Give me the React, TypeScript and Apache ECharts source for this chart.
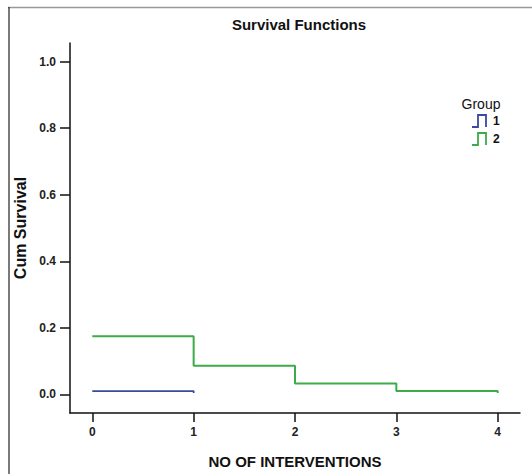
import React, { useEffect, useRef } from "react";
import * as echarts from "echarts";

const times = [0, 1, 2, 3, 4];
const group2Survival = [0.175, 0.086, 0.033, 0.01, 0.004];
const group1Times = [0, 1];
const group1Survival = [0.01, 0.004];
const yTicks = [0, 0.2, 0.4, 0.6, 0.8, 1.0];
const xTicks = [0, 1, 2, 3, 4];
const groupNames = ["1", "2"];
const colors = ["#3a4a9c", "#3cab48"];

export default function App() {
  const ref = useRef<HTMLDivElement>(null);
  useEffect(() => {
    if (!ref.current) return;
    const chart = echarts.init(ref.current, null, { renderer: "svg" });
    const font = "'Liberation Sans', Arial, sans-serif";
    const stepIcon = (x: number, y: number) => [
      [x, y + 12],
      [x + 6, y + 12],
      [x + 6, y],
      [x + 14, y],
      [x + 14, y + 12],
    ];
    chart.setOption({
      animation: false,
      backgroundColor: "#ffffff",
      title: {
        text: "Survival Functions",
        left: 294,
        top: 12,
        textAlign: "center",
        textStyle: { fontFamily: font, fontSize: 15, fontWeight: "bold", color: "#111" },
      },
      grid: { left: 70, top: 43, right: 12, bottom: 53 },
      xAxis: {
        type: "value",
        min: -0.22,
        max: 4.22,
        name: "NO OF INTERVENTIONS",
        nameLocation: "middle",
        nameGap: 41,
        nameTextStyle: { fontFamily: font, fontSize: 15, fontWeight: "bold", color: "#111" },
        splitLine: { show: false },
        axisLine: { onZero: false, lineStyle: { color: "#111", width: 1.5 } },
        axisTick: { show: true, length: 9, customValues: xTicks, lineStyle: { color: "#111", width: 1.5 } },
        axisLabel: {
          customValues: xTicks,
          margin: 13,
          fontFamily: font,
          fontSize: 12,
          fontWeight: "bold",
          color: "#222",
          formatter: (v: number) => String(v),
        },
      },
      yAxis: {
        type: "value",
        min: -0.056,
        max: 1.056,
        name: "Cum Survival",
        nameLocation: "middle",
        nameGap: 40,
        nameTextStyle: { fontFamily: font, fontSize: 16, fontWeight: "bold", color: "#111" },
        splitLine: { show: false },
        axisLine: { show: true, onZero: false, lineStyle: { color: "#111", width: 1.5 } },
        axisTick: { show: true, length: 10, customValues: yTicks, lineStyle: { color: "#111", width: 1.5 } },
        axisLabel: {
          customValues: yTicks,
          margin: 14,
          fontFamily: font,
          fontSize: 12,
          fontWeight: "bold",
          color: "#222",
          formatter: (v: number) => v.toFixed(1),
        },
      },
      series: [
        {
          name: groupNames[0],
          type: "line",
          step: "end",
          showSymbol: false,
          data: group1Times.map((t, i) => [t, group1Survival[i]]),
          lineStyle: { color: colors[0], width: 1.8 },
          itemStyle: { color: colors[0] },
        },
        {
          name: groupNames[1],
          type: "line",
          step: "end",
          showSymbol: false,
          data: times.map((t, i) => [t, group2Survival[i]]),
          lineStyle: { color: colors[1], width: 2 },
          itemStyle: { color: colors[1] },
        },
      ],
      graphic: [
        { type: "line", shape: { x1: 8, y1: 7.5, x2: 532, y2: 7.5 }, style: { stroke: "#999", lineWidth: 1.5 } },
        { type: "line", shape: { x1: 9, y1: 7, x2: 9, y2: 474 }, style: { stroke: "#222", lineWidth: 1.2 } },
        {
          type: "text",
          x: 481,
          y: 104,
          style: { text: "Group", fontFamily: font, fontSize: 14, fill: "#111", align: "center", verticalAlign: "middle" },
        },
        ...groupNames.flatMap((g, i) => [
          {
            type: "polyline",
            shape: { points: stepIcon(472, 115 + i * 18) },
            style: { stroke: colors[i], lineWidth: 1.8, fill: "none" },
          },
          {
            type: "text",
            x: 493,
            y: 121 + i * 18,
            style: { text: g, fontFamily: font, fontSize: 12, fontWeight: "bold", fill: "#111", verticalAlign: "middle" },
          },
        ]),
      ],
    });
    return () => chart.dispose();
  }, []);
  return <div ref={ref} style={{ width: 532, height: 474, position: "absolute", left: 0, top: 0 }} />;
}
